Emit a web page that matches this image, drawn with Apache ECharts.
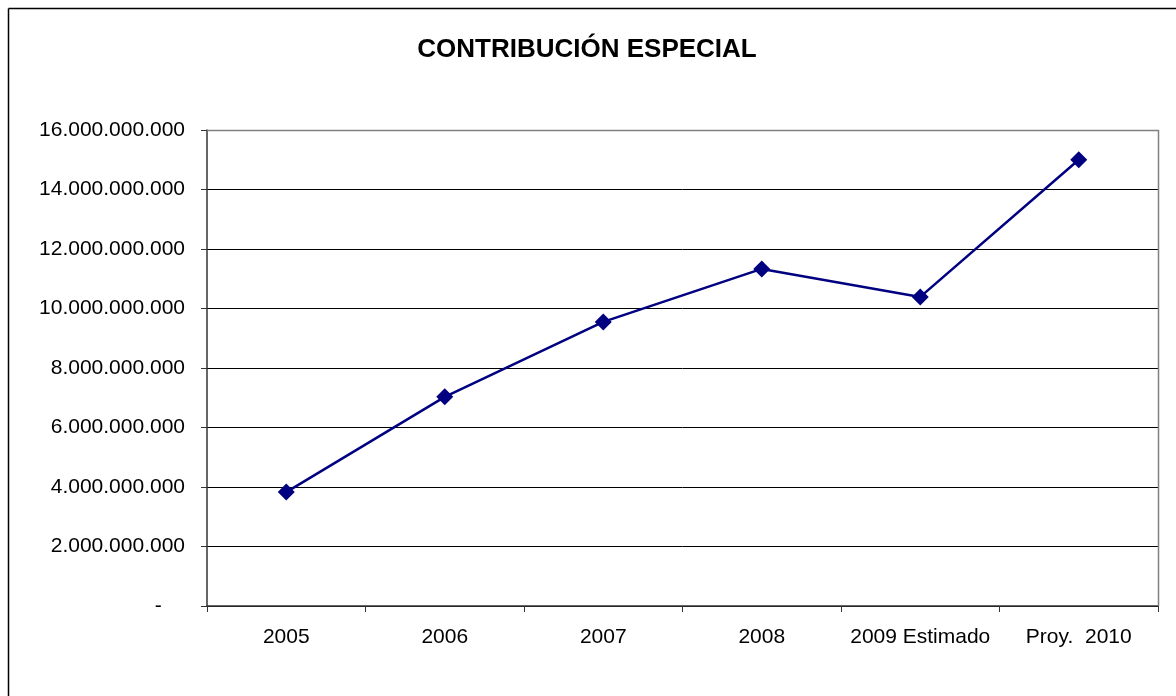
<!DOCTYPE html>
<html>
<head>
<meta charset="utf-8">
<script src="https://cdn.jsdelivr.net/npm/echarts@6/dist/echarts.min.js"></script>
<style>
html,body{margin:0;padding:0;background:#fff;}
#c{width:1176px;height:696px;}
</style>
</head>
<body>
<div id="c"></div>
<script>
const categories = ['2005', '2006', '2007', '2008', '2009 Estimado', 'Proy.  2010'];
const values = [3830000000, 7030000000, 9550000000, 11330000000, 10390000000, 15000000000];
const yTicks = { min: 0, max: 16000000000, interval: 2000000000 };
const titleText = 'CONTRIBUCIÓN ESPECIAL';

function fmt(v) {
  if (v === 0) return '-    ';
  return String(Math.round(v)).replace(/\B(?=(\d{3})+(?!\d))/g, '.');
}

const chart = echarts.init(document.getElementById('c'), null, { renderer: 'canvas' });
chart.setOption({
  animation: false,
  backgroundColor: '#fff',
  title: {
    text: titleText,
    left: 582, top: 32, textAlign: 'center',
    textStyle: { fontFamily: 'Liberation Sans, Arial', fontSize: 26, fontWeight: 'bold', color: '#000' }
  },
  graphic: [
    { type: 'line', shape: { x1: 8.5, y1: 8.5, x2: 1176, y2: 8.5 }, style: { stroke: '#000', lineWidth: 1.5 } },
    { type: 'line', shape: { x1: 8.5, y1: 8.5, x2: 8.5, y2: 696 }, style: { stroke: '#000', lineWidth: 1.5 } },
    { type: 'line', shape: { x1: 207, y1: 130.5, x2: 1158.5, y2: 130.5 }, style: { stroke: '#808080', lineWidth: 1.5 }, z: 1 },
    { type: 'line', shape: { x1: 1158.5, y1: 130, x2: 1158.5, y2: 606 }, style: { stroke: '#808080', lineWidth: 1.5 }, z: 1 }
  ],
  grid: { left: 207, top: 130, width: 951, height: 476, containLabel: false },
  xAxis: {
    type: 'category',
    data: categories,
    boundaryGap: true,
    axisLine: { lineStyle: { color: '#333', width: 1.5 } },
    axisTick: { show: true, length: 6, inside: false, lineStyle: { color: '#333' } },
    axisLabel: { margin: 21, fontFamily: 'Liberation Sans, Arial', fontSize: 21, color: '#000', interval: 0 },
    splitLine: { show: false }
  },
  yAxis: {
    type: 'value',
    min: yTicks.min, max: yTicks.max, interval: yTicks.interval,
    axisLine: { show: true, lineStyle: { color: '#333', width: 1.5 } },
    axisTick: { show: true, length: 6, lineStyle: { color: '#333' } },
    axisLabel: { margin: 22, fontFamily: 'Liberation Sans, Arial', fontSize: 21, color: '#000', formatter: fmt },
    splitLine: { show: true, lineStyle: { color: '#000', width: 1 } }
  },
  series: [{
    type: 'line',
    data: values,
    symbol: 'diamond',
    symbolSize: 17,
    lineStyle: { color: '#000080', width: 2.5 },
    itemStyle: { color: '#000080' }
  }]
});
</script>
</body>
</html>
